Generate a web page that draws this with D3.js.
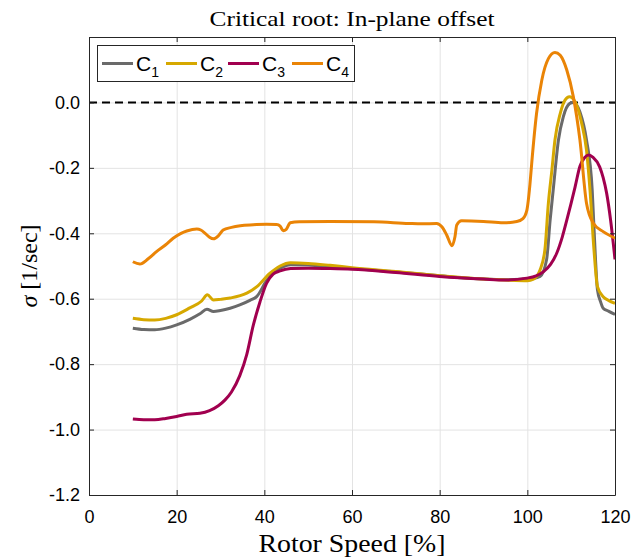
<!DOCTYPE html>
<html>
<head>
<meta charset="utf-8">
<script src="https://cdn.jsdelivr.net/npm/d3@7"></script>
<style>
  body { margin: 0; background: #fff; }
  svg { display: block; }
</style>
</head>
<body>
<div id="chart"></div>
<script>
// values
const c1Speed = [10, 12.5, 15, 17.5, 20, 23, 25.3, 26.9, 28.4, 30, 32.2, 34.4, 36.7, 38.3, 40.5, 42, 43.6, 46, 50, 55, 60, 70, 80, 90, 95, 99, 101.4, 102.9, 104.4, 105.2, 105.9, 107.1, 108.2, 109.7, 110.5, 112, 113.5, 114.8, 115.3, 116, 116.7, 117.3, 118.5, 120];
const c1Sigma = [-0.690, -0.694, -0.695, -0.690, -0.680, -0.663, -0.646, -0.632, -0.639, -0.636, -0.629, -0.619, -0.605, -0.593, -0.545, -0.522, -0.507, -0.496, -0.497, -0.502, -0.508, -0.518, -0.530, -0.540, -0.542, -0.540, -0.538, -0.532, -0.480, -0.360, -0.268, -0.115, -0.044, -0.003, 0.000, -0.029, -0.115, -0.268, -0.410, -0.573, -0.609, -0.629, -0.638, -0.648];

const c2Speed = [10, 12.5, 15, 17.5, 20, 23, 25.7, 27, 28.4, 30, 32.2, 36, 38.3, 41.3, 43.6, 46, 50, 55, 60, 70, 80, 90, 95, 100, 101.4, 102.9, 104, 104.8, 105.6, 106.3, 107.5, 108.6, 109.6, 110.9, 112.4, 113.5, 114.3, 115.2, 116, 117.3, 118.5, 120];
const c2Sigma = [-0.660, -0.664, -0.665, -0.660, -0.649, -0.628, -0.607, -0.588, -0.604, -0.602, -0.598, -0.583, -0.563, -0.522, -0.500, -0.490, -0.492, -0.498, -0.505, -0.517, -0.530, -0.540, -0.543, -0.545, -0.540, -0.512, -0.451, -0.308, -0.207, -0.115, -0.034, 0.007, 0.017, 0.002, -0.064, -0.146, -0.268, -0.450, -0.563, -0.594, -0.605, -0.614];

const c3Speed = [10, 12.5, 15, 17.5, 20, 22.3, 25.3, 27.5, 29.5, 31, 32.5, 34.4, 36, 37.5, 39, 40.5, 42, 43.6, 46, 50, 55, 60, 70, 80, 90, 95, 99.9, 102, 103.7, 105.3, 106.7, 108, 109, 110.9, 112, 113, 113.9, 115, 116.5, 117.3, 118.1, 119, 120];
const c3Sigma = [-0.968, -0.970, -0.970, -0.966, -0.960, -0.953, -0.950, -0.942, -0.927, -0.910, -0.885, -0.835, -0.770, -0.680, -0.610, -0.553, -0.525, -0.515, -0.508, -0.507, -0.508, -0.510, -0.520, -0.532, -0.540, -0.543, -0.537, -0.530, -0.517, -0.495, -0.461, -0.410, -0.360, -0.258, -0.195, -0.170, -0.161, -0.168, -0.197, -0.230, -0.278, -0.360, -0.480];

const c4Speed = [10, 11.6, 13.5, 15.4, 17.5, 19.2, 21, 22.3, 24.6, 25.5, 26.5, 27.5, 28.4, 29.5, 30.6, 32.5, 34.5, 37.5, 40.5, 42.8, 43.6, 44.3, 45, 45.9, 48, 55, 65, 73, 76, 79.3, 80.5, 81.6, 82.8, 83.5, 83.9, 85, 90, 94.5, 97.6, 99, 99.9, 100.6, 101, 102.1, 103.3, 104.8, 106.3, 107.5, 109, 110.5, 112, 113.5, 115.1, 117.3, 120];
const c4Sigma = [-0.487, -0.494, -0.478, -0.456, -0.435, -0.415, -0.400, -0.393, -0.387, -0.390, -0.400, -0.412, -0.417, -0.408, -0.390, -0.382, -0.377, -0.374, -0.372, -0.373, -0.378, -0.392, -0.388, -0.368, -0.365, -0.364, -0.365, -0.370, -0.371, -0.370, -0.380, -0.405, -0.438, -0.410, -0.375, -0.362, -0.364, -0.368, -0.364, -0.355, -0.329, -0.250, -0.186, -0.034, 0.068, 0.134, 0.153, 0.144, 0.099, 0.017, -0.115, -0.308, -0.370, -0.395, -0.415];

const seriesNames = ['1', '2', '3', '4'];
const seriesColors = ['#6a6a6a', '#d6a800', '#a1004f', '#ea8406'];
const xTicks = [0, 20, 40, 60, 80, 100, 120];
const yTicks = [-1.2, -1.0, -0.8, -0.6, -0.4, -0.2, 0.0];

const width = 644;
const height = 559;
const margin = { top: 37, right: 29, bottom: 64, left: 89 };

const svg = d3.select('#chart').append('svg')
    .attr('width', width)
    .attr('height', height);

const xScale = d3.scaleLinear()
    .domain([0, 120])
    .range([margin.left, width - margin.right]);

const yScale = d3.scaleLinear()
    .domain([-1.2, 0.2])
    .range([height - margin.bottom, margin.top]);

const plotW = width - margin.left - margin.right;
const plotH = height - margin.top - margin.bottom;

// grid
svg.append('g')
    .attr('transform', `translate(0,${height - margin.bottom})`)
    .call(d3.axisBottom(xScale).tickValues(xTicks).tickSize(-plotH).tickFormat(''))
    .call(g => g.select('.domain').remove())
    .call(g => g.selectAll('line').attr('stroke', '#e3e3e3'));

svg.append('g')
    .attr('transform', `translate(${margin.left},0)`)
    .call(d3.axisLeft(yScale).tickValues(yTicks).tickSize(-plotW).tickFormat(''))
    .call(g => g.select('.domain').remove())
    .call(g => g.selectAll('line').attr('stroke', '#e3e3e3'));

// zero line
svg.append('line')
    .attr('x1', xScale(0))
    .attr('x2', xScale(120))
    .attr('y1', yScale(0))
    .attr('y2', yScale(0))
    .attr('stroke', '#000')
    .attr('stroke-width', 2)
    .attr('stroke-dasharray', '8,5');

// series
const line = d3.line()
    .x(d => xScale(d[0]))
    .y(d => yScale(d[1]))
    .curve(d3.curveMonotoneX);

const allSeries = [
  d3.zip(c1Speed, c1Sigma),
  d3.zip(c2Speed, c2Sigma),
  d3.zip(c3Speed, c3Sigma),
  d3.zip(c4Speed, c4Sigma)
];

svg.append('clipPath').attr('id', 'clip')
  .append('rect')
    .attr('x', margin.left)
    .attr('y', margin.top)
    .attr('width', plotW)
    .attr('height', plotH);

allSeries.forEach((pts, i) => {
  svg.append('path')
      .datum(pts)
      .attr('clip-path', 'url(#clip)')
      .attr('fill', 'none')
      .attr('stroke', seriesColors[i])
      .attr('stroke-width', 3)
      .attr('stroke-linejoin', 'round')
      .attr('d', line);
});

// axes box with inward ticks
const axisColor = '#262626';
const tickFont = '"Liberation Sans", Arial, sans-serif';

svg.append('g')
    .attr('transform', `translate(0,${height - margin.bottom})`)
    .call(d3.axisBottom(xScale).tickValues(xTicks).tickSizeInner(-5).tickSizeOuter(0).tickPadding(15))
    .call(g => g.select('.domain').attr('stroke', axisColor))
    .call(g => g.selectAll('line').attr('stroke', axisColor))
    .call(g => g.selectAll('text').attr('fill', '#000').style('font', `18px ${tickFont}`));

svg.append('g')
    .attr('transform', `translate(${margin.left},0)`)
    .call(d3.axisLeft(yScale).tickValues(yTicks).tickSizeInner(-5).tickSizeOuter(0).tickPadding(9).tickFormat(d3.format('.1f')))
    .call(g => g.select('.domain').attr('stroke', axisColor))
    .call(g => g.selectAll('line').attr('stroke', axisColor))
    .call(g => g.selectAll('text').attr('fill', '#000').style('font', `18px ${tickFont}`)
      .text(d => d3.format('.1f')(d).replace('−', '-')));

svg.append('g')
    .attr('transform', `translate(0,${margin.top})`)
    .call(d3.axisTop(xScale).tickValues(xTicks).tickSizeInner(-5).tickSizeOuter(0).tickFormat(''))
    .call(g => g.select('.domain').attr('stroke', axisColor))
    .call(g => g.selectAll('line').attr('stroke', axisColor));

svg.append('g')
    .attr('transform', `translate(${width - margin.right},0)`)
    .call(d3.axisRight(yScale).tickValues(yTicks).tickSizeInner(-5).tickSizeOuter(0).tickFormat(''))
    .call(g => g.select('.domain').attr('stroke', axisColor))
    .call(g => g.selectAll('line').attr('stroke', axisColor));

// titles
const serif = '"Liberation Serif", "DejaVu Serif", serif';
const cx = margin.left + plotW / 2;

svg.append('text')
    .attr('x', cx)
    .attr('y', 26)
    .attr('text-anchor', 'middle')
    .attr('textLength', 285)
    .attr('lengthAdjust', 'spacingAndGlyphs')
    .style('font', `22px ${serif}`)
    .text('Critical root: In-plane offset');

svg.append('text')
    .attr('x', cx)
    .attr('y', 552)
    .attr('text-anchor', 'middle')
    .attr('textLength', 187)
    .attr('lengthAdjust', 'spacingAndGlyphs')
    .style('font', `25px ${serif}`)
    .text('Rotor Speed [%]');

svg.append('text')
    .attr('transform', `translate(37,${margin.top + plotH / 2}) rotate(-90)`)
    .attr('text-anchor', 'middle')
    .style('font', `24px ${serif}`)
    .html('<tspan font-style="italic">σ</tspan> [1/sec]');

// legend
const legend = svg.append('g');
legend.append('rect')
    .attr('x', 97.5)
    .attr('y', 45.5)
    .attr('width', 257)
    .attr('height', 36)
    .attr('fill', '#fff')
    .attr('stroke', axisColor)
    .attr('stroke-width', 1);

const legendX = [102, 166, 228, 292];
seriesNames.forEach((name, i) => {
  const lx = legendX[i];
  legend.append('line')
      .attr('x1', lx)
      .attr('x2', lx + 31)
      .attr('y1', 63.5)
      .attr('y2', 63.5)
      .attr('stroke', seriesColors[i])
      .attr('stroke-width', 3);
  const t = legend.append('text')
      .attr('x', lx + 34)
      .attr('y', 71)
      .style('font', `21px ${tickFont}`);
  t.append('tspan').text('C');
  t.append('tspan')
      .attr('dy', 6)
      .style('font-size', '14px')
      .text(name);
});
</script>
</body>
</html>
